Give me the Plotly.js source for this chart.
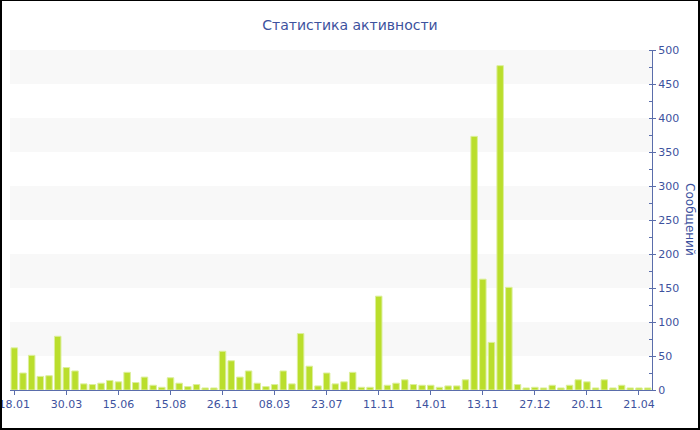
<!DOCTYPE html>
<html>
<head>
<meta charset="utf-8">
<script src="https://cdn.plot.ly/plotly-3.0.1.min.js"></script>
<style>
  html, body { margin: 0; padding: 0; background: #fff; }
  #wrap { position: relative; width: 700px; height: 430px; }
  #chart { width: 700px; height: 430px; }
  #frame { position: absolute; left: 0; top: 0; width: 700px; height: 430px; box-sizing: border-box;
           border-left: 2px solid #000; border-right: 2px solid #000; border-bottom: 2px solid #000; border-top: 1px solid #000;
           pointer-events: none; }
</style>
</head>
<body>
<div id="wrap"><div id="chart"></div><div id="frame"></div></div>
<script>
// Data
const chartTitle = 'Статистика активности';
const yTitle = 'Сообщений';
const tickLabels = ['18.01','30.03','15.06','15.08','26.11','08.03','23.07','11.11','14.01','13.11','27.12','20.11','21.04'];
const tickStep = 6;
const messages = [
  62, 25, 51, 20, 21, 79, 33, 28, 9, 8,
  10, 14, 12, 26, 11, 19, 7, 4, 18, 10,
  5, 8, 3, 3, 57, 43, 19, 28, 10, 5,
  8, 28, 9, 83, 35, 6, 25, 9, 12, 26,
  4, 4, 138, 7, 10, 15, 8, 7, 7, 4,
  6, 6, 15, 373, 163, 70, 477, 151, 8, 3,
  4, 3, 7, 3, 7, 15, 12, 3, 15, 3,
  7, 3, 3, 3
];
const bandEdges = [[50,100],[150,200],[250,300],[350,400],[450,500]];

const textColor = '#3d529e';
const axisColor = '#5a6dab';
const font = 'DejaVu Sans, Verdana, sans-serif';

const xIdx = messages.map((v, i) => i);
const tickVals = tickLabels.map((t, k) => k * tickStep);

const trace = {
  type: 'bar',
  x: xIdx,
  y: messages,
  marker: { color: '#bade2c', line: { color: '#dcef9c', width: 1 } },
  hoverinfo: 'y'
};

const shapes = bandEdges.map(b => ({
  type: 'rect', xref: 'paper', yref: 'y', x0: 0, x1: 1, y0: b[0], y1: b[1],
  fillcolor: '#f8f8f8', line: { width: 0 }, layer: 'below'
}));

const layout = {
  width: 700, height: 430,
  margin: { l: 10, r: 48, t: 50, b: 40 },
  paper_bgcolor: '#ffffff', plot_bgcolor: '#ffffff',
  showlegend: false,
  bargap: 0.25,
  font: { family: font, size: 11, color: textColor },
  title: { text: chartTitle, x: 0.5, xref: 'container', y: 1 - 25/430, yref: 'container', yanchor: 'middle',
           font: { family: font, size: 14, color: textColor } },
  xaxis: {
    type: 'linear', range: [-0.5, messages.length - 0.5],
    tickmode: 'array', tickvals: tickVals, ticktext: tickLabels,
    ticklabeloverflow: 'allow',
    showgrid: false, zeroline: false,
    showline: true, linecolor: axisColor, linewidth: 1,
    ticks: 'outside', ticklen: 4, tickcolor: axisColor,
    tickfont: { family: font, size: 11, color: textColor },
    fixedrange: true
  },
  yaxis: {
    side: 'right', range: [0, 500], dtick: 50, tick0: 0,
    showgrid: false, zeroline: false,
    showline: true, linecolor: axisColor, linewidth: 1,
    ticks: 'outside', ticklen: 3, tickcolor: axisColor,
    minor: { dtick: 25, ticks: 'inside', ticklen: 3, tickcolor: axisColor, showgrid: false },
    tickfont: { family: font, size: 11, color: textColor },
    fixedrange: true
  },
  shapes: shapes,
  annotations: [{
    text: yTitle, xref: 'paper', yref: 'paper', x: 1.059, y: 0.5,
    xanchor: 'center', yanchor: 'middle', textangle: 90, showarrow: false,
    font: { family: font, size: 12, color: textColor }
  }]
};

Plotly.newPlot('chart', [trace], layout, { staticPlot: true, displayModeBar: false });
</script>
</body>
</html>
